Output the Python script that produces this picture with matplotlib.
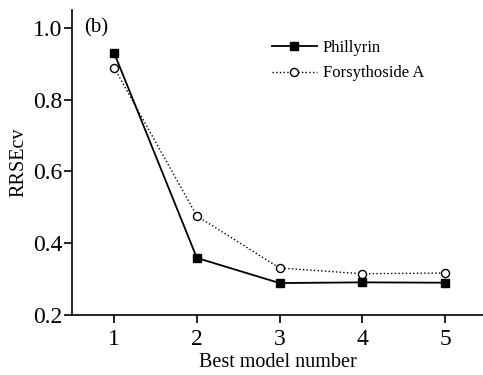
import matplotlib
matplotlib.use("Agg")
import matplotlib.pyplot as plt

models = [1, 2, 3, 4, 5]
phillyrin = [0.930, 0.359, 0.289, 0.291, 0.290]
forsythoside = [0.889, 0.476, 0.331, 0.315, 0.317]

plt.rcParams['font.family'] = ['Liberation Serif', 'DejaVu Serif']

fig = plt.figure(figsize=(4.83, 3.75), dpi=100)
ax = fig.add_axes([72 / 483, 60 / 375, 411 / 483, 305 / 375])

ax.plot(models, phillyrin, '-', color='black', lw=1.3, marker='s', ms=5.5,
        mfc='black', mec='black', label='Phillyrin')
ax.plot(models, forsythoside, ':', color='black', lw=1.0, marker='o', ms=5.8,
        mfc='white', mec='black', mew=1.0, label='Forsythoside A')

ax.set_xlim(0.49, 5.46)
ax.set_ylim(0.2, 1.05)
ax.set_xticks(models)
ax.set_yticks([0.2, 0.4, 0.6, 0.8, 1.0])
ax.set_yticklabels(['0.2', '0.4', '0.6', '0.8', '1.0'])
ax.tick_params(direction='out', length=6, width=1.2, labelsize=17, pad=1)
ax.tick_params(axis='x', pad=4)
for s in ['top', 'right']:
    ax.spines[s].set_visible(False)
for s in ['left', 'bottom']:
    ax.spines[s].set_linewidth(1.2)

ax.set_xlabel('Best model number', fontsize=14.5, labelpad=2)
ax.set_ylabel('RRSEcv', fontsize=14.5, labelpad=3)
ax.text(0.03, 1.0, '(b)', fontsize=15, transform=ax.get_yaxis_transform(),
        va='center', ha='left')

ax.legend(loc='upper left', bbox_to_anchor=(0.45, 0.95), frameon=False,
          fontsize=12, handlelength=2.7, handletextpad=0.35, labelspacing=0.55)

fig.savefig('out.png', dpi=100)
